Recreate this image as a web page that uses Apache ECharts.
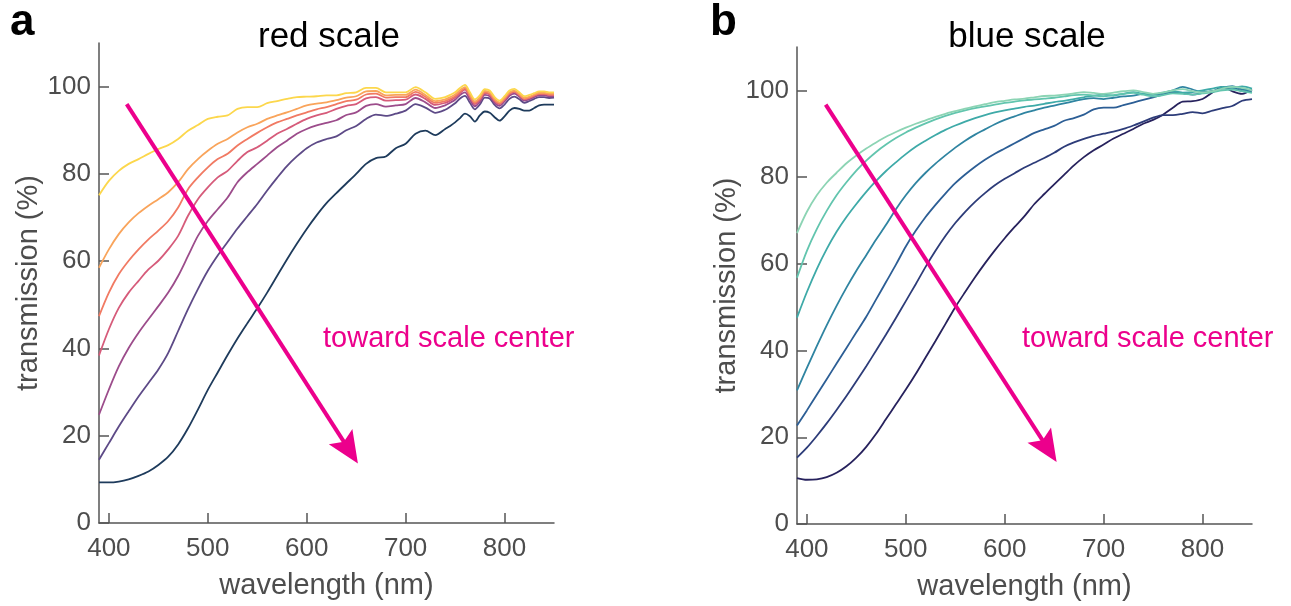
<!DOCTYPE html>
<html>
<head>
<meta charset="utf-8">
<script src="https://cdn.jsdelivr.net/npm/echarts@6/dist/echarts.min.js"></script>
<style>
html, body { margin: 0; padding: 0; background: #fff; }
#ec { width: 1291px; height: 606px; }
</style>
</head>
<body>
<div id="ec"></div>
<script>
// wavelength grid (nm)
const redWl = [390, 400, 410, 420, 430, 440, 450, 460, 470, 480, 490, 500, 510, 520, 530, 540, 550, 560, 570, 580,
  590, 600, 610, 620, 630, 640, 650, 660, 670, 680, 690, 700, 710, 720, 730, 740,
  745, 750, 755, 760, 765, 770, 775, 780, 785, 790, 795, 800, 805, 810, 815, 820, 825, 830, 835, 840, 845, 850];
const blueWl = [390, 400, 410, 420, 430, 440, 450, 460, 470, 480, 490, 500, 510, 520, 530, 540, 550, 560, 570, 580,
  590, 600, 610, 620, 630, 640, 650, 660, 670, 680, 690, 700, 710, 720, 730, 740, 750, 760, 770, 780,
  790, 800, 810, 820, 830, 840, 850];

const xTicks = [400, 500, 600, 700, 800];
const yTicks = [0, 20, 40, 60, 80, 100];

// red scale, transmission (%)
const red1 = [75.1, 78.4, 80.7, 82.3, 83.4, 84.6, 85.7, 86.6, 88.0, 89.9, 91.2, 92.6, 93.1, 93.4, 94.9, 95.3, 95.3, 96.2, 96.7, 97.2,
  97.6, 97.7, 97.8, 98.0, 98.0, 98.5, 98.7, 99.7, 99.7, 98.7, 98.7, 98.7, 99.9, 98.7, 97.2, 97.6,
  98.1, 98.7, 99.7, 100.4, 98.7, 97.1, 98.0, 99.4, 99.1, 97.6, 96.8, 97.8, 99.1, 99.5, 98.7, 97.8, 98.1, 98.5, 98.9, 98.9, 98.7, 98.7];
const red2 = [58.5, 62.7, 66.2, 68.9, 71.0, 72.7, 74.2, 75.8, 78.1, 81.1, 83.4, 85.3, 86.9, 88.0, 89.5, 90.7, 91.5, 92.6, 93.4, 94.1,
  94.9, 95.7, 96.1, 96.4, 96.9, 97.5, 97.8, 98.9, 99.0, 98.0, 98.1, 98.1, 99.3, 98.1, 96.7, 97.1,
  97.6, 98.2, 99.2, 99.9, 98.2, 96.6, 97.5, 99.0, 98.7, 97.2, 96.4, 97.4, 98.7, 99.1, 98.3, 97.4, 97.7, 98.2, 98.6, 98.6, 98.4, 98.4];
const red3 = [47.4, 52.8, 57.0, 60.1, 62.7, 65.0, 67.0, 69.2, 72.3, 76.5, 79.2, 81.5, 83.4, 84.6, 86.5, 88.0, 89.4, 90.7, 91.8, 92.6,
  93.4, 94.1, 94.8, 95.3, 96.0, 96.7, 97.0, 98.2, 98.4, 97.5, 97.6, 97.6, 98.8, 97.7, 96.3, 96.7,
  97.2, 97.8, 98.8, 99.6, 97.9, 96.3, 97.2, 98.7, 98.4, 96.9, 96.2, 97.2, 98.5, 98.9, 98.1, 97.2, 97.5, 98.0, 98.4, 98.4, 98.2, 98.2];
const red4 = [38.4, 44.4, 49.3, 52.8, 55.5, 58.1, 60.1, 62.7, 65.8, 70.4, 74.2, 76.9, 79.2, 80.7, 83.0, 85.0, 86.1, 87.6, 89.2, 90.3,
  91.5, 92.6, 93.4, 94.0, 94.9, 95.6, 96.0, 97.3, 97.6, 96.8, 96.9, 97.0, 98.2, 97.2, 95.8, 96.3,
  96.8, 97.5, 98.5, 99.3, 97.6, 96.0, 97.0, 98.5, 98.2, 96.7, 96.0, 97.0, 98.3, 98.8, 98.0, 97.1, 97.4, 97.9, 98.3, 98.3, 98.1, 98.1];
const red5 = [24.8, 30.6, 35.9, 40.1, 43.6, 46.7, 49.7, 52.8, 56.6, 61.2, 65.8, 69.2, 71.9, 74.6, 78.1, 80.4, 82.3, 84.2, 86.1, 87.6,
  89.2, 90.3, 91.1, 91.7, 92.3, 93.5, 94.1, 95.6, 96.0, 95.4, 95.7, 96.0, 97.4, 96.4, 95.1, 95.7,
  96.3, 97.0, 98.1, 98.7, 97.0, 95.5, 96.5, 98.1, 97.8, 96.3, 95.6, 96.6, 97.9, 98.4, 97.7, 96.8, 97.1, 97.6, 98.0, 98.0, 97.8, 97.8];
const red6 = [14.5, 18.3, 22.1, 25.6, 29.0, 32.1, 35.2, 39.0, 44.0, 49.0, 53.6, 57.8, 61.3, 64.4, 67.5, 70.3, 73.1, 76.2, 79.1, 81.8,
  84.0, 85.9, 87.2, 88.0, 88.6, 90.0, 91.0, 92.6, 93.6, 93.3, 93.8, 94.5, 96.0, 95.2, 94.0, 94.7,
  95.4, 96.2, 97.3, 97.9, 96.3, 94.8, 95.9, 97.5, 97.3, 95.8, 95.0, 95.9, 97.2, 97.7, 97.1, 96.3, 96.7, 97.2, 97.6, 97.6, 97.4, 97.5];
const red7 = [9.3, 9.3, 9.5, 10.0, 10.8, 11.8, 13.3, 15.2, 18.0, 21.7, 26.0, 30.5, 34.5, 38.5, 42.3, 45.8, 49.2, 52.8, 56.6, 60.4,
  64.0, 67.4, 70.5, 73.3, 75.6, 77.8, 80.0, 82.3, 83.6, 84.0, 85.9, 86.9, 89.2, 89.9, 88.9, 90.3,
  91.0, 91.8, 92.8, 93.8, 93.2, 92.0, 93.4, 94.3, 94.0, 93.0, 92.2, 93.2, 94.5, 95.1, 94.9, 94.5, 94.5, 95.1, 95.7, 95.9, 95.9, 95.9];

// blue scale, transmission (%)
const blue1 = [67.1, 72.0, 75.8, 78.7, 81.0, 83.2, 85.0, 86.6, 88.0, 89.3, 90.4, 91.4, 92.3, 93.1, 93.9, 94.6, 95.2, 95.8, 96.3, 96.8,
  97.3, 97.6, 97.9, 98.1, 98.4, 98.7, 98.8, 99.0, 99.3, 99.6, 99.4, 99.2, 99.5, 99.8, 100.0, 99.6, 99.2, 99.5, 100.0, 100.3,
  99.8, 99.5, 99.8, 100.4, 100.8, 100.6, 100.0];
const blue2 = [56.8, 63.0, 68.0, 72.2, 75.8, 78.8, 81.5, 83.8, 85.8, 87.5, 89.0, 90.3, 91.4, 92.4, 93.3, 94.1, 94.8, 95.4, 95.9, 96.3,
  96.7, 97.1, 97.4, 97.7, 97.9, 98.1, 98.3, 98.6, 98.9, 99.0, 98.8, 98.6, 98.9, 99.2, 99.4, 99.0, 98.6, 98.9, 99.3, 99.2,
  99.0, 99.3, 99.6, 100.0, 100.2, 99.8, 99.4];
const blue3 = [47.6, 53.5, 58.8, 63.4, 67.4, 70.8, 73.8, 76.6, 79.1, 81.4, 83.4, 85.3, 87.0, 88.4, 89.7, 90.9, 91.9, 92.8, 93.6, 94.3,
  94.9, 95.4, 95.8, 96.2, 96.5, 96.9, 97.3, 97.6, 98.0, 98.4, 98.8, 99.0, 98.8, 99.2, 99.6, 99.2, 99.0, 99.5, 99.8, 99.5,
  99.6, 100.0, 100.4, 100.8, 100.6, 100.9, 100.4];
const blue4 = [30.8, 36.0, 41.0, 45.8, 50.3, 54.5, 58.4, 62.0, 65.6, 69.0, 72.6, 75.8, 78.6, 81.0, 83.1, 85.0, 86.8, 88.4, 89.8, 91.0,
  92.2, 93.2, 94.0, 94.8, 95.4, 96.0, 96.5, 97.0, 97.5, 98.0, 98.2, 98.0, 98.3, 98.6, 98.8, 99.2, 99.0, 99.3, 100.0, 100.8,
  100.2, 99.6, 99.8, 100.6, 101.0, 100.2, 100.0];
const blue5 = [22.7, 26.2, 29.8, 33.4, 37.0, 40.6, 44.2, 47.8, 51.8, 55.8, 59.8, 64.0, 67.6, 70.8, 73.6, 76.2, 78.6, 80.6, 82.4, 84.0,
  85.4, 86.6, 87.8, 89.0, 90.2, 91.0, 91.8, 93.0, 93.6, 94.4, 95.6, 96.0, 96.0, 96.6, 97.2, 97.8, 98.4, 99.0, 99.6, 99.4,
  99.0, 99.4, 99.8, 100.4, 100.6, 99.8, 99.6];
const blue6 = [15.3, 17.6, 20.3, 23.2, 26.3, 29.5, 32.9, 36.4, 40.0, 43.7, 47.5, 51.4, 55.3, 59.3, 63.0, 66.4, 69.4, 72.0, 74.3, 76.3,
  78.1, 79.6, 80.9, 82.2, 83.3, 84.4, 85.6, 87.0, 88.0, 88.8, 89.5, 90.0, 90.5, 91.1, 91.9, 92.8, 93.7, 94.3, 94.3, 94.6,
  95.0, 94.7, 95.3, 95.9, 96.4, 97.6, 98.0];
const blue7 = [10.6, 10.2, 10.3, 10.8, 11.8, 13.3, 15.3, 17.8, 20.8, 24.2, 27.6, 31.0, 34.6, 38.4, 42.2, 46.1, 50.0, 53.5, 56.9, 60.1,
  63.1, 65.9, 68.5, 71.0, 73.8, 76.1, 78.3, 80.5, 82.7, 84.6, 86.2, 87.5, 88.9, 90.0, 91.1, 92.3, 93.2, 94.4, 96.0, 97.4,
  97.5, 98.0, 99.5, 100.8, 99.8, 99.2, 100.2];

const redColors = ["#fcd74c", "#f9a45b", "#f17a63", "#d65b7a", "#9c4c8b", "#5d4a87", "#1e3b5c"];
const blueColors = ["#8cd4b4", "#62c5ae", "#3eaaa8", "#2f84a1", "#2c5e95", "#2d3c79", "#27225d"];

const fontFamily = '"Liberation Sans", Arial, Helvetica, sans-serif';
const gray = "#4d4d4d";
const magenta = "#ec008c";

function xAxisFor(gridIndex) {
  return {
    type: "value",
    gridIndex: gridIndex,
    min: 390,
    max: 850,
    name: "wavelength (nm)",
    nameLocation: "middle",
    nameGap: 48,
    nameTextStyle: { fontSize: 29, color: gray, fontFamily: fontFamily },
    axisLine: { show: true, onZero: false, lineStyle: { color: "#555", width: 1.5 } },
    axisTick: { show: true, inside: true, length: 10, customValues: xTicks, lineStyle: { color: "#555", width: 1.5 } },
    axisLabel: { customValues: xTicks, fontSize: 26, color: gray, margin: 13, fontFamily: fontFamily },
    splitLine: { show: false },
  };
}

function yAxisFor(gridIndex) {
  return {
    type: "value",
    gridIndex: gridIndex,
    min: 0,
    max: 110,
    name: "transmission (%)",
    nameLocation: "middle",
    nameGap: 55,
    nameTextStyle: { fontSize: 29, color: gray, fontFamily: fontFamily },
    axisLine: { show: true, onZero: false, lineStyle: { color: "#555", width: 1.5 } },
    axisTick: { show: true, inside: true, length: 10, customValues: yTicks, lineStyle: { color: "#555", width: 1.5 } },
    axisLabel: { customValues: yTicks, fontSize: 26, color: gray, margin: 8, fontFamily: fontFamily },
    splitLine: { show: false },
  };
}

function lineSeries(wl, vals, color, idx) {
  return {
    type: "line",
    xAxisIndex: idx,
    yAxisIndex: idx,
    data: wl.map((w, i) => [w, vals[i]]),
    showSymbol: false,
    smooth: 0.3,
    silent: true,
    lineStyle: { color: color, width: 1.8 },
    itemStyle: { color: color },
  };
}

// arrow "toward scale center", in data coords
function arrowSeries(idx, from, to) {
  return {
    type: "line",
    xAxisIndex: idx,
    yAxisIndex: idx,
    data: [],
    silent: true,
    z: 5,
    markLine: {
      silent: true,
      animation: false,
      symbol: ["none", "path://M14,0 L28,32 L14,26 L0,32 Z"],
      symbolSize: [28, 32],
      label: { show: false },
      lineStyle: { color: magenta, width: 4, type: "solid" },
      emphasis: { disabled: true },
      data: [[{ coord: from }, { coord: to }]],
    },
  };
}

const redVals = [red7, red6, red5, red4, red3, red2, red1];
const redCols = redColors.slice().reverse();
const blueVals = [blue7, blue6, blue5, blue4, blue3, blue2, blue1];
const blueCols = blueColors.slice().reverse();

const series = [];
redVals.forEach((v, i) => series.push(lineSeries(redWl, v, redCols[i], 0)));
blueVals.forEach((v, i) => series.push(lineSeries(blueWl, v, blueCols[i], 1)));
series.push(arrowSeries(0, [418, 96.0], [643, 16.7]));
series.push(arrowSeries(1, [419, 96.7], [643.7, 17.4]));

function txt(x, y, text, font, color, align) {
  return {
    type: "text",
    x: x,
    y: y,
    silent: true,
    style: {
      text: text,
      font: font,
      fill: color,
      textAlign: align,
      textVerticalAlign: "middle",
    },
  };
}

const myChart = echarts.init(document.getElementById("ec"), null, { renderer: "canvas" });
myChart.setOption({
  animation: false,
  backgroundColor: "#fff",
  grid: [
    { left: 99, top: 43, width: 455, height: 480 },
    { left: 797, top: 47, width: 455, height: 479 },
  ],
  xAxis: [xAxisFor(0), xAxisFor(1)],
  yAxis: [yAxisFor(0), yAxisFor(1)],
  series: series,
  graphic: [
    txt(10, 23, "a", "bold 44px " + fontFamily, "#000", "left"),
    txt(710, 23, "b", "bold 44px " + fontFamily, "#000", "left"),
    txt(329, 37, "red scale", "35px " + fontFamily, "#000", "center"),
    txt(1027, 37, "blue scale", "35px " + fontFamily, "#000", "center"),
    txt(323, 339, "toward scale center", "29px " + fontFamily, magenta, "left"),
    txt(1022, 339, "toward scale center", "29px " + fontFamily, magenta, "left"),
  ],
});
</script>
</body>
</html>
